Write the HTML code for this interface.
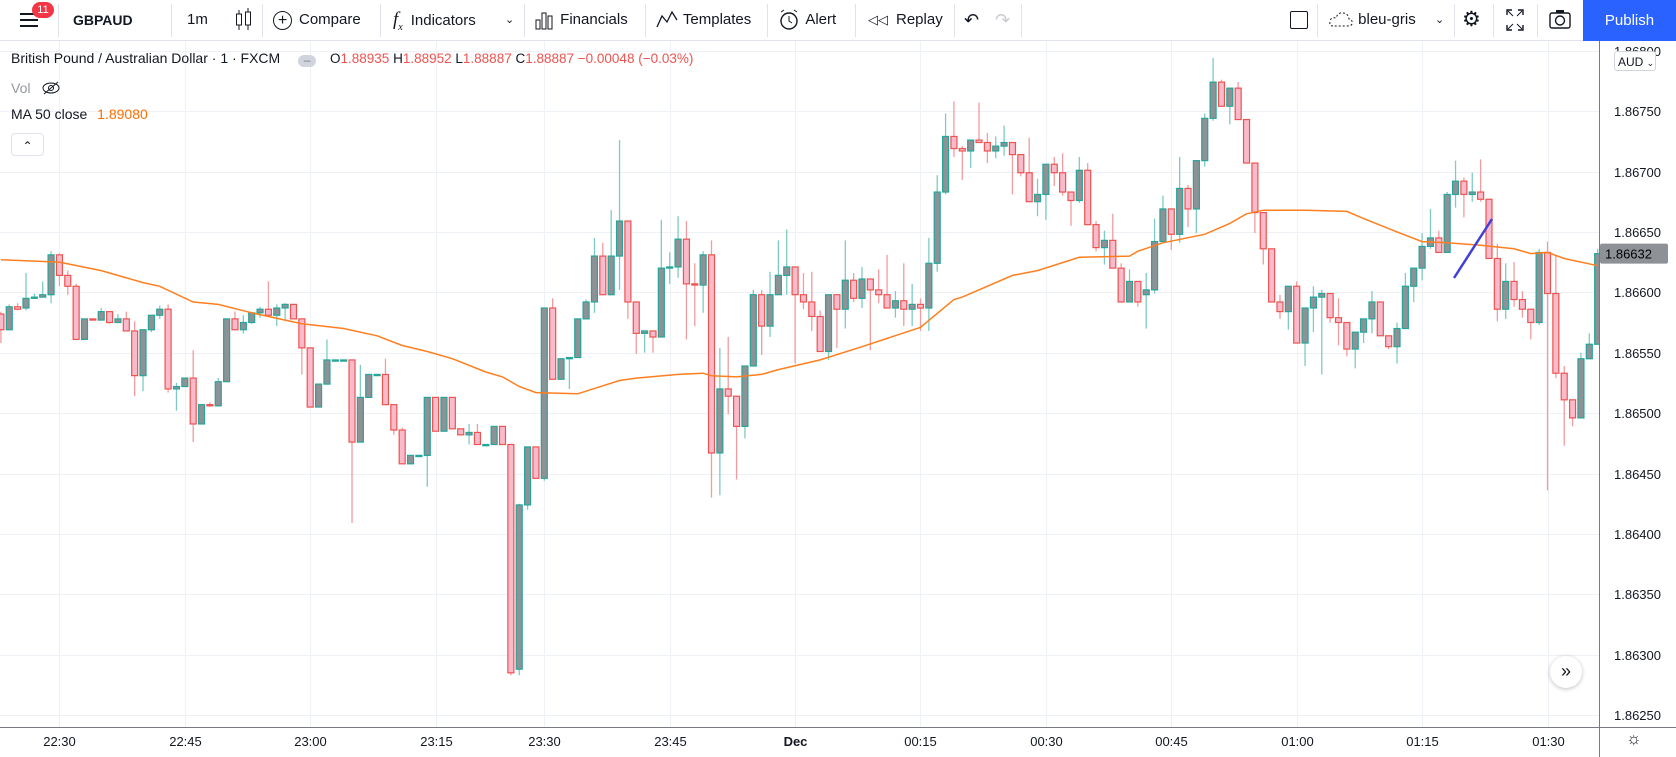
<!DOCTYPE html>
<html><head><meta charset="utf-8"><style>
html,body{margin:0;padding:0;background:#fff;overflow:hidden}
body{width:1676px;height:757px;position:relative;font-family:"Liberation Sans",sans-serif;color:#131722}
.tb{position:absolute;left:0;top:0;width:1676px;height:41px;border-bottom:1px solid #e0e3eb;background:#fff;box-sizing:border-box;z-index:3}
.ti{position:absolute;top:0;height:40px;line-height:40px;font-size:15px;color:#131722;white-space:nowrap}
.sep{position:absolute;top:4px;width:1px;height:33px;background:#e0e3eb}
.pub{position:absolute;right:0;top:0;width:93px;height:41px;background:#2962ff;color:#fff;font-size:15px;line-height:41px;text-align:center}
.ov{position:absolute;z-index:2}
</style></head><body>
<svg id="chart" width="1676" height="757" style="position:absolute;left:0;top:0;z-index:1">
  <defs><clipPath id="cp"><rect x="0" y="41" width="1599" height="686"/></clipPath></defs>
  <g id="grid"></g>
  <g id="candles" clip-path="url(#cp)"></g>
  <g id="overlay" clip-path="url(#cp)"></g>
  <line x1="1599.5" y1="41" x2="1599.5" y2="757" stroke="#787b86" stroke-width="1"/>
  <line x1="0" y1="727.5" x2="1676" y2="727.5" stroke="#787b86" stroke-width="1"/>
  <g id="yaxis"></g>
  <g id="xaxis"></g>
</svg>

<div class="tb">
  <div class="ti" style="left:19px"><svg width="22" height="40"><rect x="1" y="13" width="18" height="2" fill="#131722"/><rect x="1" y="19" width="18" height="2" fill="#131722"/><rect x="1" y="25" width="18" height="2" fill="#131722"/></svg></div>
  <div style="position:absolute;left:32px;top:2px;width:22px;height:16px;border-radius:8px;background:#f23645;color:#fff;font-size:11px;line-height:16px;text-align:center">11</div>
  <div class="sep" style="left:58px"></div>
  <div class="ti" style="left:73px;font-weight:bold;font-size:14px">GBPAUD</div>
  <div class="sep" style="left:171px"></div>
  <div class="ti" style="left:187px">1m</div>
  <div class="ti" style="left:234px"><svg width="20" height="40"><line x1="5" y1="10" x2="5" y2="30" stroke="#131722"/><rect x="2.5" y="14" width="5" height="11" fill="#fff" stroke="#131722"/><line x1="14" y1="8" x2="14" y2="30" stroke="#131722"/><rect x="11.5" y="12" width="5" height="13" fill="#fff" stroke="#131722"/></svg></div>
  <div class="sep" style="left:262px"></div>
  <div class="ti" style="left:273px"><span style="display:inline-block;width:17px;height:17px;border:1.5px solid #131722;border-radius:50%;text-align:center;line-height:17px;font-size:16px;vertical-align:middle;margin-right:7px">+</span>Compare</div>
  <div class="sep" style="left:380px"></div>
  <div class="ti" style="left:393px"><i style="font-family:'Liberation Serif',serif;font-size:19px;margin-right:8px">f<sub style="font-size:10px">x</sub></i>Indicators</div>
  <div class="ti" style="left:505px;font-size:11px">&#8964;</div>
  <div class="sep" style="left:524px"></div>
  <div class="ti" style="left:534px"><svg width="22" height="40" style="vertical-align:top"><rect x="2" y="20" width="4" height="9" fill="none" stroke="#131722"/><rect x="8" y="13" width="4" height="16" fill="none" stroke="#131722"/><rect x="14" y="16" width="4" height="13" fill="none" stroke="#131722"/></svg> Financials</div>
  <div class="sep" style="left:645px"></div>
  <div class="ti" style="left:655px"><svg width="24" height="40" style="vertical-align:top"><polyline points="2,27 7,16 12,22 17,12 22,20" fill="none" stroke="#131722" stroke-width="1.3"/></svg> Templates</div>
  <div class="sep" style="left:767px"></div>
  <div class="ti" style="left:778px"><svg width="24" height="40" style="vertical-align:top"><circle cx="11" cy="21" r="8" fill="none" stroke="#131722" stroke-width="1.4"/><polyline points="11,16 11,21 14,23" fill="none" stroke="#131722"/><line x1="3" y1="12" x2="6" y2="10" stroke="#131722"/><line x1="19" y1="12" x2="16" y2="10" stroke="#131722"/></svg> Alert</div>
  <div class="sep" style="left:855px"></div>
  <div class="ti" style="left:868px"><span style="font-size:13px;margin-right:8px">&#9665;&#9665;</span>Replay</div>
  <div class="sep" style="left:954px"></div>
  <div class="ti" style="left:964px;font-size:18px">&#8630;</div>
  <div class="ti" style="left:995px;font-size:18px;color:#c9cbd1">&#8631;</div>
  <div class="sep" style="left:1021px"></div>
  <div class="ti" style="left:1290px"><span style="display:inline-block;width:16px;height:16px;border:1.5px solid #131722;border-radius:2px;vertical-align:middle"></span></div>
  <div class="sep" style="left:1317px"></div>
  <div class="ti" style="left:1328px"><svg width="26" height="40" style="vertical-align:top"><path d="M5 26 Q1 26 2 21 Q3 17 8 18 Q10 12 15 13 Q20 13 21 19 Q25 20 24 24 Q23 26 20 26 Z" fill="none" stroke="#131722" stroke-dasharray="2,2"/></svg> bleu-gris</div>
  <div class="ti" style="left:1435px;font-size:11px">&#8964;</div>
  <div class="sep" style="left:1454px"></div>
  <div class="ti" style="left:1462px;font-size:21px">&#9881;</div>
  <div class="sep" style="left:1493px"></div>
  <div class="ti" style="left:1505px"><svg width="20" height="40"><path d="M2 15V10H7M13 10H18V15M18 25V30H13M7 30H2V25" fill="none" stroke="#131722" stroke-width="1.4"/><line x1="3" y1="11" x2="8" y2="16" stroke="#131722"/><line x1="17" y1="11" x2="12" y2="16" stroke="#131722"/><line x1="3" y1="29" x2="8" y2="24" stroke="#131722"/><line x1="17" y1="29" x2="12" y2="24" stroke="#131722"/></svg></div>
  <div class="sep" style="left:1537px"></div>
  <div class="ti" style="left:1548px"><svg width="24" height="40"><rect x="2" y="13" width="20" height="15" rx="2" fill="none" stroke="#131722" stroke-width="1.4"/><circle cx="12" cy="20.5" r="4.5" fill="none" stroke="#131722" stroke-width="1.4"/><rect x="8" y="10" width="8" height="3" fill="#131722"/></svg></div>
  <div class="pub">Publish</div>
</div>

<div class="ov" style="left:11px;top:50px;font-size:14px;white-space:nowrap">
  <span>British Pound / Australian Dollar · 1 · FXCM</span>
  <span style="display:inline-block;width:18px;height:12px;border-radius:6px;background:#d1d4dc;margin:0 10px 0 14px;vertical-align:-1px;text-align:center;line-height:10px;color:#787b86;font-size:12px">–</span>
  <span style="color:#ef5350;font-size:13.5px"><span style="color:#131722">O</span>1.88935 <span style="color:#131722">H</span>1.88952 <span style="color:#131722">L</span>1.88887 <span style="color:#131722">C</span>1.88887 −0.00048 (−0.03%)</span>
</div>
<div class="ov" style="left:11px;top:80px;font-size:14px;color:#9598a1">Vol <span style="margin-left:8px;color:#131722"><svg width="18" height="14" style="vertical-align:-2px"><ellipse cx="9" cy="7" rx="8" ry="5" fill="none" stroke="#131722"/><circle cx="9" cy="7" r="2.5" fill="none" stroke="#131722"/><line x1="2" y1="13" x2="16" y2="1" stroke="#131722"/></svg></span></div>
<div class="ov" style="left:11px;top:106px;font-size:14px">MA 50 close <span style="color:#ff6d00;margin-left:6px">1.89080</span></div>
<div class="ov" style="left:11px;top:133px;width:31px;height:21px;border:1px solid #e0e3eb;border-radius:4px;background:#fff;text-align:center;font-size:12px;line-height:24px">&#8963;</div>
<div class="ov" style="left:1614px;top:51px;width:42px;height:20px;border:1px solid #d1d4dc;border-radius:3px;background:#fff;font-size:12px;line-height:20px;padding-left:3px;box-sizing:border-box">AUD <span style="font-size:9px">&#8964;</span></div>
<div class="ov" style="left:1550px;top:656px;width:32px;height:32px;border-radius:16px;background:#fff;box-shadow:0 1px 4px rgba(0,0,0,.25);text-align:center;line-height:30px;font-size:18px;color:#131722">»</div>
<div class="ov" style="left:1626px;top:729px;font-size:17px;color:#131722">&#9788;</div>

<script>
const opens=[1.86582,1.86569,1.86588,1.86587,1.86595,1.86596,1.86598,1.86631,1.86614,1.86605,1.86561,1.86578,1.86577,1.86584,1.86575,1.86578,1.86568,1.86531,1.86569,1.86581,1.86586,1.86520,1.86522,1.86529,1.86491,1.86507,1.86506,1.86526,1.86578,1.86569,1.86575,1.86583,1.86586,1.86581,1.86587,1.86590,1.86578,1.86554,1.86505,1.86524,1.86544,1.86544,1.86544,1.86476,1.86513,1.86532,1.86532,1.86507,1.86486,1.86458,1.86465,1.86465,1.86513,1.86485,1.86513,1.86487,1.86482,1.86484,1.86474,1.86474,1.86489,1.86474,1.86288,1.86424,1.86472,1.86446,1.86587,1.86528,1.86545,1.86546,1.86578,1.86592,1.86630,1.86598,1.86630,1.86659,1.86592,1.86566,1.86568,1.86563,1.86620,1.86621,1.86644,1.86607,1.86606,1.86631,1.86467,1.86520,1.86514,1.86489,1.86539,1.86598,1.86572,1.86598,1.86614,1.86621,1.86598,1.86592,1.86580,1.86551,1.86598,1.86586,1.86610,1.86595,1.86611,1.86602,1.86598,1.86587,1.86593,1.86586,1.86590,1.86587,1.86624,1.86683,1.86729,1.86719,1.86717,1.86726,1.86724,1.86717,1.86721,1.86724,1.86714,1.86699,1.86675,1.86681,1.86706,1.86699,1.86683,1.86676,1.86701,1.86656,1.86637,1.86643,1.86620,1.86592,1.86609,1.86598,1.86602,1.86642,1.86669,1.86648,1.86686,1.86669,1.86709,1.86744,1.86774,1.86754,1.86769,1.86743,1.86707,1.86666,1.86636,1.86592,1.86584,1.86605,1.86558,1.86587,1.86596,1.86599,1.86579,1.86575,1.86553,1.86567,1.86578,1.86592,1.86564,1.86555,1.86570,1.86605,1.86620,1.86638,1.86645,1.86633,1.86681,1.86692,1.86681,1.86683,1.86677,1.86628,1.86586,1.86609,1.86594,1.86586,1.86575,1.86633,1.86599,1.86533,1.86511,1.86496,1.86545,1.86557];
const highs=[1.86584,1.86590,1.86591,1.86616,1.86599,1.86609,1.86634,1.86632,1.86618,1.86607,1.86578,1.86578,1.86587,1.86584,1.86582,1.86584,1.86576,1.86569,1.86581,1.86589,1.86590,1.86525,1.86529,1.86552,1.86507,1.86509,1.86529,1.86578,1.86584,1.86581,1.86583,1.86588,1.86609,1.86590,1.86591,1.86590,1.86578,1.86554,1.86524,1.86561,1.86544,1.86544,1.86544,1.86540,1.86532,1.86532,1.86545,1.86507,1.86488,1.86465,1.86465,1.86513,1.86513,1.86513,1.86513,1.86487,1.86491,1.86491,1.86474,1.86489,1.86489,1.86474,1.86425,1.86472,1.86472,1.86587,1.86595,1.86545,1.86546,1.86578,1.86594,1.86645,1.86641,1.86668,1.86726,1.86659,1.86592,1.86568,1.86568,1.86660,1.86633,1.86663,1.86659,1.86624,1.86634,1.86643,1.86554,1.86563,1.86514,1.86539,1.86602,1.86602,1.86617,1.86643,1.86652,1.86621,1.86616,1.86617,1.86585,1.86598,1.86598,1.86643,1.86616,1.86621,1.86611,1.86619,1.86631,1.86601,1.86624,1.86607,1.86595,1.86645,1.86697,1.86748,1.86758,1.86721,1.86726,1.86757,1.86732,1.86729,1.86738,1.86724,1.86714,1.86728,1.86694,1.86706,1.86712,1.86715,1.86683,1.86712,1.86707,1.86659,1.86651,1.86665,1.86624,1.86619,1.86609,1.86616,1.86661,1.86680,1.86669,1.86712,1.86689,1.86709,1.86748,1.86794,1.86776,1.86769,1.86774,1.86743,1.86707,1.86666,1.86636,1.86598,1.86605,1.86609,1.86587,1.86605,1.86602,1.86599,1.86595,1.86575,1.86567,1.86578,1.86601,1.86592,1.86564,1.86575,1.86616,1.86620,1.86649,1.86669,1.86651,1.86683,1.86709,1.86695,1.86699,1.86710,1.86677,1.86640,1.86624,1.86625,1.86601,1.86586,1.86636,1.86642,1.86631,1.86539,1.86511,1.86550,1.86566,1.86636];
const lows=[1.86558,1.86569,1.86585,1.86585,1.86595,1.86596,1.86591,1.86605,1.86598,1.86561,1.86561,1.86577,1.86577,1.86574,1.86575,1.86568,1.86514,1.86518,1.86567,1.86578,1.86517,1.86502,1.86522,1.86476,1.86491,1.86506,1.86506,1.86526,1.86569,1.86566,1.86574,1.86579,1.86581,1.86572,1.86576,1.86578,1.86532,1.86505,1.86505,1.86524,1.86544,1.86544,1.86409,1.86476,1.86513,1.86532,1.86507,1.86482,1.86458,1.86458,1.86464,1.86439,1.86485,1.86485,1.86487,1.86482,1.86474,1.86474,1.86474,1.86474,1.86474,1.86283,1.86283,1.86420,1.86446,1.86444,1.86528,1.86528,1.86520,1.86546,1.86578,1.86583,1.86598,1.86598,1.86602,1.86578,1.86549,1.86550,1.86550,1.86563,1.86607,1.86612,1.86561,1.86572,1.86583,1.86430,1.86432,1.86499,1.86445,1.86479,1.86539,1.86548,1.86563,1.86598,1.86598,1.86541,1.86586,1.86568,1.86551,1.86544,1.86554,1.86570,1.86592,1.86587,1.86552,1.86591,1.86587,1.86579,1.86572,1.86572,1.86568,1.86568,1.86617,1.86681,1.86712,1.86693,1.86703,1.86724,1.86707,1.86711,1.86713,1.86681,1.86696,1.86675,1.86663,1.86660,1.86688,1.86680,1.86655,1.86674,1.86656,1.86634,1.86623,1.86620,1.86592,1.86592,1.86588,1.86570,1.86599,1.86642,1.86635,1.86641,1.86654,1.86649,1.86704,1.86742,1.86754,1.86739,1.86743,1.86707,1.86649,1.86623,1.86592,1.86578,1.86569,1.86558,1.86539,1.86567,1.86532,1.86575,1.86556,1.86547,1.86537,1.86558,1.86566,1.86564,1.86553,1.86541,1.86570,1.86592,1.86610,1.86636,1.86633,1.86633,1.86670,1.86662,1.86675,1.86675,1.86628,1.86576,1.86578,1.86588,1.86579,1.86561,1.86573,1.86436,1.86529,1.86473,1.86489,1.86496,1.86545,1.86557];
const closes=[1.86569,1.86588,1.86586,1.86595,1.86596,1.86598,1.86631,1.86614,1.86605,1.86561,1.86578,1.86577,1.86584,1.86575,1.86578,1.86568,1.86531,1.86569,1.86581,1.86586,1.86520,1.86522,1.86529,1.86491,1.86507,1.86506,1.86526,1.86578,1.86569,1.86575,1.86583,1.86586,1.86581,1.86587,1.86590,1.86578,1.86554,1.86505,1.86524,1.86544,1.86544,1.86544,1.86476,1.86513,1.86532,1.86532,1.86507,1.86486,1.86458,1.86465,1.86465,1.86513,1.86485,1.86513,1.86487,1.86482,1.86484,1.86474,1.86474,1.86489,1.86474,1.86285,1.86424,1.86472,1.86446,1.86587,1.86528,1.86545,1.86546,1.86578,1.86592,1.86630,1.86598,1.86630,1.86659,1.86592,1.86566,1.86568,1.86563,1.86620,1.86621,1.86644,1.86607,1.86606,1.86631,1.86467,1.86520,1.86514,1.86489,1.86539,1.86598,1.86572,1.86598,1.86614,1.86621,1.86598,1.86592,1.86580,1.86551,1.86598,1.86586,1.86610,1.86595,1.86611,1.86602,1.86598,1.86587,1.86593,1.86586,1.86590,1.86587,1.86624,1.86683,1.86729,1.86719,1.86717,1.86726,1.86724,1.86717,1.86721,1.86724,1.86714,1.86699,1.86675,1.86681,1.86706,1.86699,1.86683,1.86676,1.86701,1.86656,1.86637,1.86643,1.86620,1.86592,1.86609,1.86592,1.86602,1.86642,1.86669,1.86648,1.86686,1.86669,1.86709,1.86744,1.86774,1.86754,1.86769,1.86743,1.86707,1.86666,1.86636,1.86592,1.86584,1.86605,1.86558,1.86587,1.86596,1.86599,1.86579,1.86575,1.86553,1.86567,1.86578,1.86592,1.86564,1.86555,1.86570,1.86605,1.86620,1.86638,1.86645,1.86633,1.86681,1.86692,1.86681,1.86683,1.86677,1.86628,1.86586,1.86609,1.86594,1.86586,1.86575,1.86633,1.86599,1.86533,1.86511,1.86496,1.86545,1.86557,1.86632];
const maBars=[1,8,13,18,20,24,27,31,37,42,46,49,52,55,59,61,63,65,70,75,77,82,85,86,89,92,94,99,104,111,115,116,122,125,130,136,137,140,145,148,150,152,157,162,164,168,171,174,178,182,184,186,188,192];
const maValues=[1.86627,1.86625,1.86618,1.86608,1.86605,1.86592,1.86590,1.86583,1.86574,1.86570,1.86564,1.86556,1.86551,1.86545,1.86534,1.86530,1.86522,1.86517,1.86516,1.86527,1.86529,1.86532,1.86533,1.86531,1.86530,1.86532,1.86536,1.86544,1.86555,1.86571,1.86594,1.86596,1.86614,1.86618,1.86629,1.86630,1.86634,1.86641,1.86648,1.86657,1.86665,1.86668,1.86668,1.86667,1.86661,1.86650,1.86642,1.86641,1.86639,1.86636,1.86632,1.86633,1.86628,1.86622];
const priceTicks=[1.868,1.8675,1.867,1.8665,1.866,1.8655,1.865,1.8645,1.864,1.8635,1.863,1.8625];
const timeLabels=['22:30','22:45','23:00','23:15','23:30','23:45','Dec','00:15','00:30','00:45','01:00','01:15','01:30'];
const timeBars=[8,23,38,53,66,81,96,111,126,141,156,171,186];
const lastPrice=1.86632;

const NS='http://www.w3.org/2000/svg';
function yS(p){return 292.3-(p-1.866)*120800;}
function xS(b){return 0.9+(b-1)*8.36;}
function mk(tag,attrs,parent){const e=document.createElementNS(NS,tag);for(const k in attrs)e.setAttribute(k,attrs[k]);parent.appendChild(e);return e;}
const grid=document.getElementById('grid'),cg=document.getElementById('candles'),ov=document.getElementById('overlay'),ya=document.getElementById('yaxis'),xa=document.getElementById('xaxis');
priceTicks.forEach(p=>{
  const y=Math.round(yS(p))+0.5;
  const l=mk('line',{x1:0,x2:1599,y1:y,y2:y,stroke:'#eef1f6','stroke-width':1},grid);
  
  
  const t=mk('text',{x:1614,y:y+4.5,'font-size':13,fill:'#131722','font-family':'Liberation Sans, sans-serif'},ya);
  t.textContent=p.toFixed(5);
  
  
});
timeBars.forEach((b,i)=>{
  const x=Math.round(xS(b))+0.5;
  const l=mk('line',{x1:x,x2:x,y1:41,y2:727,stroke:'#eef1f6','stroke-width':1},grid);
  
  
  const t=mk('text',{x:x,y:746,'font-size':13,fill:'#131722','text-anchor':'middle','font-family':'Liberation Sans, sans-serif','font-weight':timeLabels[i]==='Dec'?'bold':'normal'},xa);
  t.textContent=timeLabels[i];
  
  
});
opens.forEach((o,i)=>{
  const c=closes[i],h=highs[i],lo=lows[i],x=xS(i+1),up=c>=o;
  const g=mk('g',{},cg);
  
  
  mk('line',{x1:x,x2:x,y1:yS(h),y2:yS(lo),stroke:up?'#7fcbc3':'#f19ca0','stroke-width':1.3},g);
  const top=yS(Math.max(o,c)),bot=yS(Math.min(o,c));
  mk('rect',{x:x-3,y:top,width:6,height:Math.max(bot-top,1.2),fill:up?'#8e9196':'#f8bbcb',stroke:up?'#26a69a':'#ef5350','stroke-width':1.2},g);
});
let pts=maBars.map((b,i)=>xS(b).toFixed(1)+','+yS(maValues[i]).toFixed(1)).join(' ');
const ma=mk('polyline',{points:pts,fill:'none',stroke:'#ff7f1f','stroke-width':1.5},ov);


const tl=mk('line',{x1:1454,y1:278,x2:1492,y2:219,stroke:'#4040d8','stroke-width':2.5},ov);


const ly=yS(lastPrice);
const lb=mk('rect',{x:1600,y:ly-10,width:68,height:20,fill:'#8e9196',rx:2},ya);


const lt=mk('text',{x:1605,y:ly+5,'font-size':13,fill:'#000','font-family':'Liberation Sans, sans-serif'},ya);
lt.textContent=lastPrice.toFixed(5);


</script>
</body></html>
